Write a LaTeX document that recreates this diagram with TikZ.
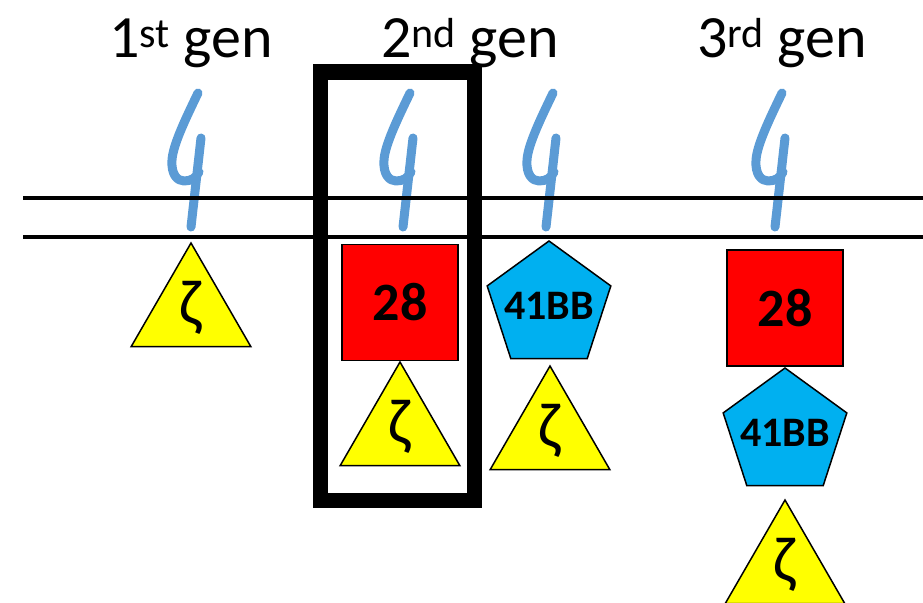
\documentclass[tikz,border=0pt]{standalone}
\usepackage{fontspec}
\setmainfont{Carlito}
\usetikzlibrary{shapes.geometric}
\definecolor{recblue}{RGB}{91,155,213}
\definecolor{pentblue}{RGB}{0,176,240}
\definecolor{boxred}{RGB}{255,0,0}
\definecolor{triyellow}{RGB}{255,255,0}
\tikzset{
  rc/.style={draw=recblue, line width=9pt, line cap=round, line join=round},
  membrane/.style={draw=black, line width=4pt},
  genlabel/.style={anchor=base, inner sep=0pt, font=\fontsize{60}{62}\selectfont},
  zetatri/.style={regular polygon, regular polygon sides=3, minimum size=138pt, inner sep=0pt, outer sep=0pt,
    fill=triyellow, draw=black, line width=1.5pt,
    label={[font=\fontsize{64}{66}\selectfont, inner sep=0pt, yshift=4pt]center:ζ}},
  sqbox/.style={rectangle, minimum width=116pt, minimum height=116pt, inner sep=0pt,
    fill=boxred, draw=black, line width=1.5pt, font=\bfseries\fontsize{54}{56}\selectfont},
  pentbox/.style={regular polygon, regular polygon sides=5, minimum size=130pt, inner sep=0pt, outer sep=0pt,
    fill=pentblue, draw=black, line width=1.5pt},
  penttext/.style={font=\bfseries\fontsize{42}{44}\selectfont, inner sep=0pt},
  highlight/.style={draw=black, line width=15pt},
  receptor/.pic={
    \draw[rc] (5,93) .. controls (-8,120) and (-20,145) .. (-21,160)
       .. controls (-22,174) and (-16,181) .. (-9,181)
       .. controls (-2,181) and (3,178) .. (6,172);
    \draw[rc] (8,138) -- (-2,227);
  }
}
\begin{document}
\begin{tikzpicture}[x=1pt, y=-1pt]
\useasboundingbox (0,0) rectangle (923,602);
% labels
\node[genlabel] (l1) at (191,57) {1\textsuperscript{st} gen};
\node[genlabel] (l2) at (470,57) {2\textsuperscript{nd} gen};
\node[genlabel] (l3) at (782,57) {3\textsuperscript{rd} gen};
% receptors
\pic at (193,0) {receptor};
\pic at (405,0) {receptor};
\pic at (548,0) {receptor};
\pic at (777,0) {receptor};
% membrane
\coordinate (m1a) at (23,198);
\coordinate (m1b) at (923,198);
\coordinate (m2a) at (23,237);
\coordinate (m2b) at (923,237);
\draw[membrane] (m1a) -- (m1b);
\draw[membrane] (m2a) -- (m2b);
% 1st gen
\node[zetatri] (z1) at (191,312) {};
% 2nd gen (CD28)
\node[sqbox] (s2) at (400,302.5) {28};
\node[zetatri] (z2) at (400,431) {};
% 2nd gen (41BB)
\node[pentbox] (p2) at (549,306) {};
\node[penttext] (p2t) at (p2.center) {41BB};
\node[zetatri] (z2b) at (550,435) {};
% 3rd gen
\node[sqbox] (s3) at (785,308) {28};
\node[pentbox] (p3) at (785,433) {};
\node[penttext] (p3t) at (p3.center) {41BB};
\node[zetatri] (z3) at (785,569) {};
% highlight box
\node[highlight, rectangle, minimum width=154pt, minimum height=428pt, inner sep=0pt] (hl) at (397,286) {};
\end{tikzpicture}
\end{document}
